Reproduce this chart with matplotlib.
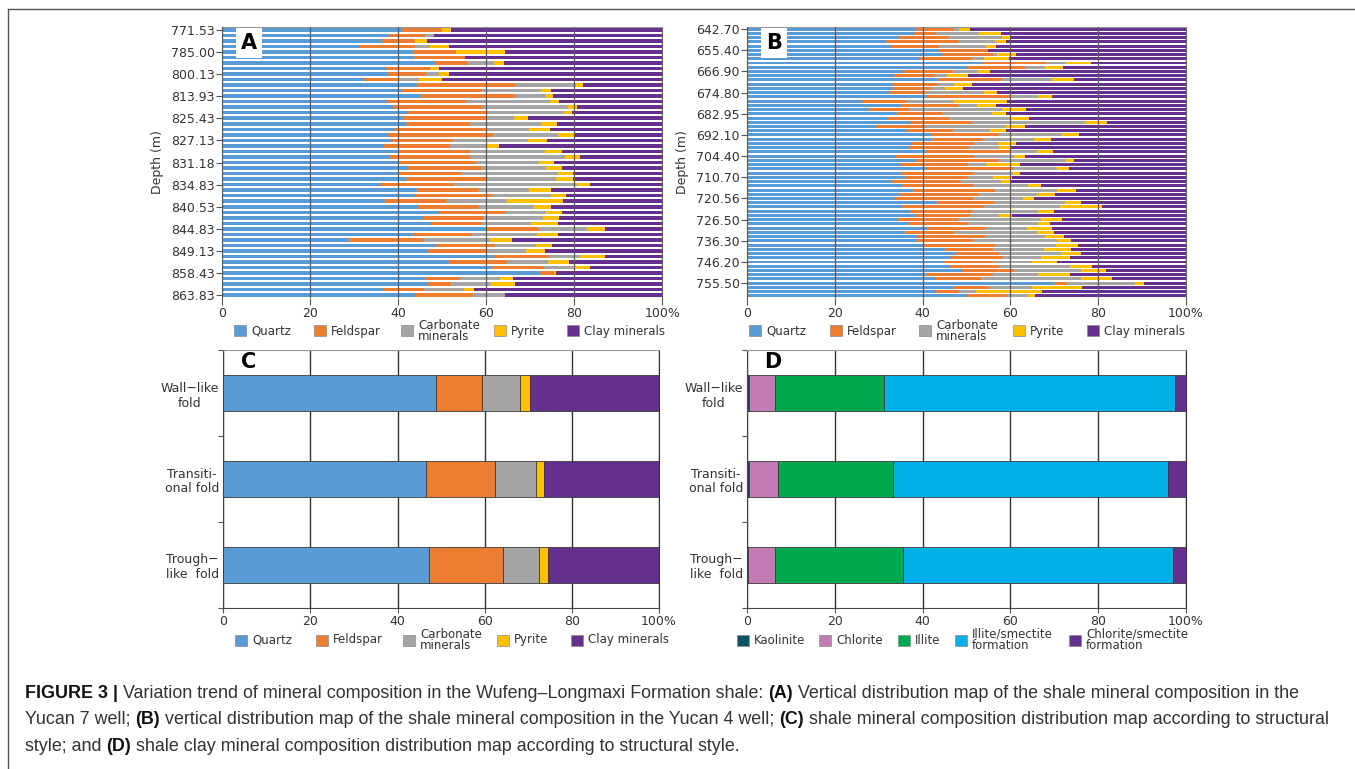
import matplotlib
matplotlib.use("Agg")
import matplotlib.pyplot as plt
import numpy as np
from matplotlib.patches import Rectangle
from matplotlib.lines import Line2D

W, H = 1355, 769

# ---------------- data ----------------
minerals = ["Quartz", "Feldspar", "Carbonate\nminerals", "Pyrite", "Clay minerals"]
mineral_colors = ["#5b9bd5", "#ed7d31", "#a5a5a5", "#ffc000", "#66318e"]

# Panel A: Yucan 7 well, 49 samples (top to bottom), wt%
depth_a = ["771.53", "785.00", "800.13", "813.93", "825.43", "827.13", "831.18",
           "834.83", "840.53", "844.83", "849.13", "858.43", "863.83"]
quartz_a = [40.8, 38.0, 36.2, 31.1, 43.3, 43.6, 48.3, 37.2, 37.6, 32.1, 44.2, 40.9, 45.1,
            37.4, 38.9, 42.3, 41.1, 41.7, 39.3, 37.6, 38.6, 36.7, 40.0, 38.1, 40.5, 42.2,
            40.0, 41.8, 35.8, 44.2, 43.9, 37.0, 44.5, 49.3, 45.7, 47.4, 59.8, 43.3, 28.9,
            48.5, 46.8, 61.7, 51.6, 61.2, 72.2, 46.1, 46.7, 36.6, 43.9]
feldspar_a = [9.2, 8.1, 7.6, 12.7, 9.8, 11.6, 7.5, 10.0, 8.7, 8.0, 22.3, 18.2, 21.4,
              18.0, 20.2, 18.0, 18.8, 14.6, 20.8, 24.0, 13.9, 15.1, 16.4, 18.2, 17.1, 16.8,
              14.2, 18.4, 16.8, 14.2, 17.3, 14.0, 13.9, 14.9, 13.6, 11.6, 12.1, 13.4, 16.7,
              13.5, 13.3, 12.5, 13.2, 12.0, 3.3, 7.9, 5.3, 9.2, 13.0]
carbonate_a = [0.0, 2.0, 0.0, 3.3, 0.0, 0.0, 5.9, 0.0, 3.0, 4.5, 13.8, 13.3, 7.0,
               19.1, 19.5, 17.3, 6.4, 16.1, 9.5, 14.8, 17.0, 8.2, 17.0, 21.6, 14.3, 14.5,
               22.1, 15.6, 28.0, 11.4, 13.6, 13.8, 12.5, 9.3, 13.6, 11.1, 11.0, 14.8, 15.2,
               9.3, 8.9, 7.0, 9.3, 6.4, 0.0, 9.1, 9.1, 9.2, 7.3]
pyrite_a = [2.0, 0.0, 2.8, 4.4, 11.1, 0.0, 2.3, 2.0, 2.3, 5.4, 1.6, 2.3, 1.7,
            2.1, 2.0, 1.9, 3.2, 3.6, 4.9, 3.7, 4.2, 3.0, 3.8, 3.4, 3.6, 3.6,
            3.4, 3.8, 3.0, 4.8, 3.4, 12.7, 3.7, 3.8, 3.6, 6.2, 4.0, 4.9, 5.1,
            3.6, 4.3, 5.8, 4.6, 3.9, 0.3, 2.9, 5.5, 2.2, 0.0]
clay_a = [48.0, 51.9, 53.4, 48.5, 35.8, 44.8, 36.0, 50.8, 48.4, 50.0, 18.1, 25.3, 24.8,
          23.4, 19.4, 20.5, 30.5, 24.0, 25.5, 19.9, 26.3, 37.0, 22.8, 18.7, 24.5, 22.9,
          20.3, 20.4, 16.4, 25.4, 21.8, 22.5, 25.4, 22.7, 23.5, 23.7, 13.1, 23.6, 34.1,
          25.1, 26.7, 13.0, 21.3, 16.5, 24.2, 34.0, 33.4, 42.8, 35.8]

# Panel B: Yucan 4 well, 64 samples (top to bottom), wt%
depth_b = ["642.70", "655.40", "666.90", "674.80", "682.95", "692.10", "704.40",
           "710.70", "720.56", "726.50", "736.30", "746.20", "755.50"]
quartz_b = [38.4, 38.1, 34.7, 31.6, 32.7, 43.4, 44.5, 39.4, 53.5, 50.2, 35.6, 33.4, 43.6,
            33.3, 33.3, 32.4, 40.9, 26.2, 35.1, 27.7, 34.1, 32.2, 37.0, 29.4, 36.4, 41.9,
            42.2, 37.5, 36.8, 40.7, 33.9, 38.5, 35.1, 40.7, 35.1, 36.0, 32.9, 35.2, 37.9,
            34.8, 33.8, 43.3, 35.4, 37.1, 38.4, 34.3, 36.8, 40.9, 36.0, 38.8, 38.8, 40.3,
            45.2, 47.5, 46.5, 44.8, 46.2, 49.0, 40.7, 42.9, 69.9, 47.2, 42.8, 50.2]
feldspar_b = [8.7, 4.9, 11.2, 16.7, 11.1, 11.6, 11.6, 11.8, 14.6, 13.1, 11.3, 9.4, 14.4,
              10.1, 8.5, 8.3, 19.2, 10.0, 13.2, 9.1, 10.6, 13.7, 14.2, 11.3, 10.6, 15.5,
              11.6, 14.1, 13.8, 19.2, 17.9, 18.7, 15.3, 19.8, 16.3, 14.4, 15.9, 16.3, 18.6,
              18.0, 17.6, 12.9, 18.7, 14.1, 12.4, 13.7, 13.6, 13.3, 11.1, 15.4, 12.6, 16.3,
              10.9, 9.9, 11.9, 11.3, 11.2, 11.8, 15.3, 10.3, 3.0, 7.9, 5.5, 9.1]
carbonate_b = [1.1, 9.9, 12.2, 8.3, 10.6, 0.0, 0.9, 2.8, 4.6, 4.6, 5.7, 2.8, 11.5,
               3.7, 3.4, 13.2, 6.2, 10.8, 4.1, 21.3, 11.1, 14.1, 25.9, 18.1, 8.3, 14.4,
               11.5, 5.6, 6.8, 6.2, 9.0, 15.4, 4.0, 10.2, 9.1, 5.7, 9.0, 12.5, 14.1,
               13.2, 11.6, 16.3, 17.2, 15.2, 6.5, 19.0, 16.0, 9.7, 18.9, 13.7, 19.2, 13.8,
               11.6, 14.1, 8.5, 8.8, 16.3, 15.4, 10.3, 23.0, 15.5, 9.8, 3.8, 4.7]
pyrite_b = [2.5, 4.9, 1.9, 2.5, 2.3, 0.0, 4.3, 5.6, 5.7, 4.0, 2.8, 4.7, 5.1,
            4.2, 3.9, 3.1, 3.3, 12.2, 4.4, 5.4, 3.2, 4.2, 5.0, 4.5, 3.6, 3.9,
            3.9, 4.0, 2.5, 3.6, 2.5, 2.0, 7.8, 2.6, 1.6, 4.3, 2.1, 3.0, 4.3,
            4.2, 2.4, 3.7, 9.5, 3.6, 3.0, 4.8, 2.7, 5.5, 3.9, 4.4, 3.2, 5.0,
            6.1, 4.6, 6.8, 5.7, 4.9, 5.6, 7.4, 7.1, 2.1, 11.4, 15.1, 1.6]
clay_b = [49.3, 42.2, 40.0, 40.9, 43.3, 45.0, 38.7, 40.4, 21.6, 28.1, 44.6, 49.7, 25.4,
          48.7, 50.9, 43.0, 30.4, 40.8, 43.2, 36.5, 41.0, 35.8, 17.9, 36.7, 41.1, 24.3,
          30.8, 38.8, 40.1, 30.3, 36.7, 25.4, 37.8, 26.7, 37.9, 39.6, 40.1, 33.0, 25.1,
          29.8, 34.6, 23.8, 19.2, 30.0, 39.7, 28.2, 30.9, 30.6, 30.1, 27.7, 26.2, 24.6,
          26.2, 23.9, 26.3, 29.4, 21.4, 18.2, 26.3, 16.7, 9.5, 23.7, 32.8, 34.4]

# Panels C and D: by structural style
styles = ["Wall\u2212like\nfold", "Transiti-\nonal fold", "Trough\u2212\nlike  fold"]
quartz_c = [48.8, 46.6, 47.1]
feldspar_c = [10.5, 15.8, 17.1]
carbonate_c = [8.9, 9.3, 8.3]
pyrite_c = [2.2, 1.9, 2.1]
clay_c = [29.6, 26.4, 25.4]

clay_types = ["Kaolinite", "Chlorite", "Illite", "Illite/smectite\nformation",
              "Chlorite/smectite\nformation"]
clay_colors = ["#0b5563", "#c27bb3", "#00a84f", "#00aee8", "#66318e"]
kaolinite_d = [0.4, 0.5, 0.2]
chlorite_d = [5.9, 6.5, 6.1]
illite_d = [24.9, 26.2, 29.2]
ism_d = [66.4, 62.8, 61.5]
csm_d = [2.4, 4.0, 3.0]

pct_ticks = [0, 20, 40, 60, 80, 100]
pct_labels = ["0", "20", "40", "60", "80", "100%"]

# ---------------- figure ----------------
plt.rcParams['font.family'] = ['DejaVu Sans']
fig = plt.figure(figsize=(W / 100, H / 100), dpi=100)
fig.patch.set_facecolor("white")

TXT = "#333333"


def add_ax(l, t, r, b):
    return fig.add_axes([l / W, 1 - b / H, (r - l) / W, (b - t) / H])


def stacked(ax, series, colors, height, edge=None):
    n = len(series[0])
    y = np.arange(n)
    left = np.zeros(n)
    for vals, col in zip(series, colors):
        vals = np.asarray(vals, dtype=float)
        ax.barh(y, vals, left=left, height=height, color=col,
                edgecolor=edge if edge else col, linewidth=0.6 if edge else 0)
        left = left + vals
    ax.set_ylim(n - 0.5, -0.5)
    ax.set_xlim(0, 100)


def style_x(ax, length):
    ax.set_xticks(pct_ticks)
    ax.set_xticklabels(pct_labels)
    ax.tick_params(axis="x", direction="out", length=length, width=0.8, color="#555555",
                   labelsize=9, labelcolor=TXT, pad=1.2)


def depth_panel(ax, series, labels, height, letter):
    stacked(ax, series, mineral_colors, height)
    n = len(series[0])
    step = (n - 1) // (len(labels) - 1)
    ax.set_yticks(np.arange(0, n, step)[:len(labels)])
    ax.set_yticklabels(labels)
    ax.tick_params(axis="y", direction="out", length=4.3, width=0.8, color="#555555",
                   labelsize=9, labelcolor=TXT, pad=1)
    style_x(ax, 5)
    ax.set_axisbelow(False)
    ax.grid(axis="x", color="#5a5a5a", linewidth=0.9)
    ax.grid(axis="y", visible=False)
    ax.spines["top"].set_color("#999999")
    ax.spines["left"].set_color("#555555")
    ax.spines["right"].set_color("#666666")
    ax.spines["bottom"].set_visible(False)
    ax.set_ylabel("Depth (m)", fontsize=9, color=TXT)
    ax.yaxis.set_label_coords(-0.132, 0.5)
    ax.text(0.061, 0.942, letter, transform=ax.transAxes, fontsize=15,
            fontweight="bold", ha="center", va="center", color="black",
            bbox=dict(facecolor="white", edgecolor="none", pad=3.5), zorder=5)


def style_panel(ax, series, colors, letter):
    stacked(ax, series, colors, 0.41, edge="#3a3a3a")
    ax.set_ylim(2.5, -0.5)
    ax.set_yticks([-0.5, 0.5, 1.5, 2.5])
    ax.set_yticklabels([])
    ax.set_yticks([0, 1, 2], minor=True)
    ax.set_yticklabels(styles, minor=True, multialignment="center")
    ax.tick_params(axis="y", which="major", direction="out", length=3.5, width=0.8,
                   color="#555555")
    ax.tick_params(axis="y", which="minor", length=0, labelsize=9,
                   labelcolor=TXT, pad=3)
    style_x(ax, 3.6)
    ax.set_axisbelow(True)
    ax.grid(axis="x", color="#333333", linewidth=1.0)
    ax.spines["top"].set_color("#999999")
    ax.spines["left"].set_color("#444444")
    ax.spines["right"].set_color("#333333")
    ax.spines["bottom"].set_color("#444444")
    ax.text(0.058, 0.953, letter, transform=ax.transAxes, fontsize=15,
            fontweight="bold", ha="center", va="center", color="black")


ax_a = add_ax(222.3, 27, 662.3, 298)
depth_panel(ax_a, [quartz_a, feldspar_a, carbonate_a, pyrite_a, clay_a], depth_a, 0.64, "A")

ax_b = add_ax(747.3, 27, 1185.7, 298)
depth_panel(ax_b, [quartz_b, feldspar_b, carbonate_b, pyrite_b, clay_b], depth_b, 0.70, "B")

ax_c = add_ax(223.3, 350, 659, 608)
style_panel(ax_c, [quartz_c, feldspar_c, carbonate_c, pyrite_c, clay_c], mineral_colors, "C")

ax_d = add_ax(747.3, 350, 1185.7, 608)
style_panel(ax_d, [kaolinite_d, chlorite_d, illite_d, ism_d, csm_d], clay_colors, "D")


# ---------------- legends ----------------
def draw_legend(labels, colors, xs, yc):
    for lab, col, x in zip(labels, colors, xs):
        fig.patches.append(Rectangle((x / W, 1 - (yc + 5.5) / H), 12 / W, 11 / H,
                                     transform=fig.transFigure, facecolor=col,
                                     edgecolor="#8a8a8a", linewidth=0.5))
        fig.text((x + 17) / W, 1 - yc / H, lab, fontsize=8.5, color=TXT,
                 ha="left", va="center", linespacing=0.88)


draw_legend(minerals, mineral_colors, [234, 314, 401, 494, 567], 331)
draw_legend(minerals, mineral_colors, [749, 830, 919, 1013, 1087], 331)
draw_legend(minerals, mineral_colors, [235, 316, 403, 497, 571], 640)
draw_legend(clay_types, clay_colors, [737, 819, 898, 955, 1069], 640)

# frame around the figure
fig.add_artist(Line2D([8 / W, 8 / W], [0, 1 - 9 / H], transform=fig.transFigure,
                      color="#555555", linewidth=1.0))
fig.add_artist(Line2D([8 / W, 1], [1 - 9 / H, 1 - 9 / H], transform=fig.transFigure,
                      color="#555555", linewidth=1.0))

# ---------------- caption ----------------
caption = [
    [("FIGURE 3 |", True),
     (" Variation trend of mineral composition in the Wufeng\u2013Longmaxi Formation shale: ", False),
     ("(A)", True),
     (" Vertical distribution map of the shale mineral composition in the", False)],
    [("Yucan 7 well; ", False), ("(B)", True),
     (" vertical distribution map of the shale mineral composition in the Yucan 4 well; ", False),
     ("(C)", True),
     (" shale mineral composition distribution map according to structural", False)],
    [("style; and ", False), ("(D)", True),
     (" shale clay mineral composition distribution map according to structural style.", False)],
]
renderer = fig.canvas.get_renderer()
baselines = [698, 724, 751]
for runs, yb in zip(caption, baselines):
    x = 25.0
    for s, bold in runs:
        t = fig.text(x / W, 1 - yb / H, s, fontsize=12.85, family="Liberation Sans",
                     fontweight="bold" if bold else "normal",
                     color="#111111" if bold else "#333333", ha="left", va="baseline")
        bb = t.get_window_extent(renderer=renderer)
        x += bb.width

fig.savefig("out.png", dpi=100)
